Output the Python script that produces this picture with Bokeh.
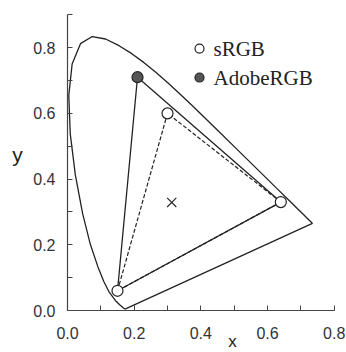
from bokeh.plotting import figure
from bokeh.models import Range1d, FixedTicker, Label, PrintfTickFormatter
from bokeh.embed import file_html
from bokeh.resources import INLINE

# CIE 1931 spectral locus (chromaticity x, y)
locus_x = [0.1741, 0.1738, 0.1733, 0.1726, 0.1714, 0.1689, 0.1644, 0.1566, 0.1440,
           0.1241, 0.1096, 0.0913, 0.0687, 0.0454, 0.0235, 0.0082, 0.0039, 0.0139,
           0.0389, 0.0743, 0.1142, 0.1547, 0.1929, 0.2296, 0.2658, 0.3016, 0.3373,
           0.3731, 0.4441, 0.5125, 0.5752, 0.6270, 0.6658, 0.6915, 0.7079, 0.7190,
           0.7260, 0.7300, 0.7334, 0.7347]
locus_y = [0.0050, 0.0049, 0.0048, 0.0048, 0.0051, 0.0069, 0.0109, 0.0177, 0.0297,
           0.0578, 0.0868, 0.1327, 0.2007, 0.2950, 0.4127, 0.5384, 0.6548, 0.7502,
           0.8120, 0.8338, 0.8262, 0.8059, 0.7816, 0.7543, 0.7243, 0.6923, 0.6589,
           0.6245, 0.5547, 0.4866, 0.4242, 0.3725, 0.3340, 0.3083, 0.2920, 0.2809,
           0.2740, 0.2700, 0.2666, 0.2653]

srgb_x = [0.64, 0.30, 0.15]
srgb_y = [0.33, 0.60, 0.06]
adobe_x = [0.64, 0.21, 0.15]
adobe_y = [0.33, 0.71, 0.06]
white_x = [0.3127]
white_y = [0.3290]
legend_labels = ["sRGB", "AdobeRGB"]
x_ticks = [0.0, 0.2, 0.4, 0.6, 0.8]
y_ticks = [0.0, 0.2, 0.4, 0.6, 0.8]

INK = "#222222"
AX = "#444444"

# frame covers the whole canvas; axes are pinned at 0 so that labels can sit around them
p = figure(width=346, height=352,
           x_range=Range1d(-0.201, 0.837), y_range=Range1d(-0.1278, 0.9434),
           output_backend="svg", toolbar_location=None,
           min_border_left=0, min_border_right=0, min_border_top=0, min_border_bottom=0)
p.outline_line_color = None
p.grid.visible = False
p.background_fill_color = "white"
p.border_fill_color = "white"

for ax in (p.xaxis[0], p.yaxis[0]):
    ax.fixed_location = 0
    ax.major_tick_in = 5
    ax.major_tick_out = 0
    ax.minor_tick_in = 5
    ax.minor_tick_out = 0
    ax.axis_line_color = AX
    ax.major_tick_line_color = AX
    ax.minor_tick_line_color = AX
    ax.axis_line_width = 1.2
    ax.major_label_text_font = "Liberation Sans"
    ax.major_label_text_font_size = "16px"
    ax.major_label_text_color = "#333333"
    ax.formatter = PrintfTickFormatter(format="%.1f")

p.xaxis[0].bounds = (0, 0.8)
p.yaxis[0].bounds = (0, 0.9)
p.xaxis[0].ticker = FixedTicker(ticks=x_ticks, minor_ticks=[0.1, 0.3, 0.5, 0.7])
p.yaxis[0].ticker = FixedTicker(ticks=y_ticks, minor_ticks=[0.1, 0.3, 0.5, 0.7, 0.9])
p.xaxis[0].major_label_standoff = 16
p.yaxis[0].major_label_standoff = 12

# spectral locus (closed with purple line)
p.line(locus_x + locus_x[:1], locus_y + locus_y[:1], line_color=INK, line_width=1.3)

# gamuts
p.line(adobe_x + adobe_x[:1], adobe_y + adobe_y[:1], line_color=INK, line_width=1.3)
p.line(srgb_x + srgb_x[:1], srgb_y + srgb_y[:1], line_color=INK, line_width=1.2,
       line_dash="4 2")

p.scatter(adobe_x[1:2], adobe_y[1:2], size=11, marker="circle",
          fill_color="#555555", line_color=INK, line_width=1.2)
p.scatter(srgb_x, srgb_y, size=11, marker="circle",
          fill_color="white", line_color=INK, line_width=1.2)

p.scatter(white_x, white_y, size=13, marker="x", line_color=INK, line_width=1.1)

# legend
p.scatter([0.396], [0.797], size=9, marker="circle", fill_color="white",
          line_color=INK, line_width=1.2)
p.scatter([0.396], [0.709], size=9, marker="circle", fill_color="#555555",
          line_color=INK, line_width=1.2)
for lab, yy in zip(legend_labels, [0.797, 0.709]):
    p.add_layout(Label(x=0.438, y=yy, text=lab, text_font="Liberation Serif",
                       text_font_size="21px", text_color=INK,
                       text_baseline="middle", text_align="left"))

# axis labels
p.add_layout(Label(x=-0.15, y=0.475, text="y", text_font="Liberation Sans",
                   text_font_size="21px", text_color=INK,
                   text_baseline="alphabetic", text_align="center"))
p.add_layout(Label(x=0.495, y=-0.124, text="x", text_font="Liberation Sans",
                   text_font_size="17px", text_color=INK,
                   text_baseline="bottom", text_align="center"))

open("out.html", "w").write(file_html(p, INLINE))
